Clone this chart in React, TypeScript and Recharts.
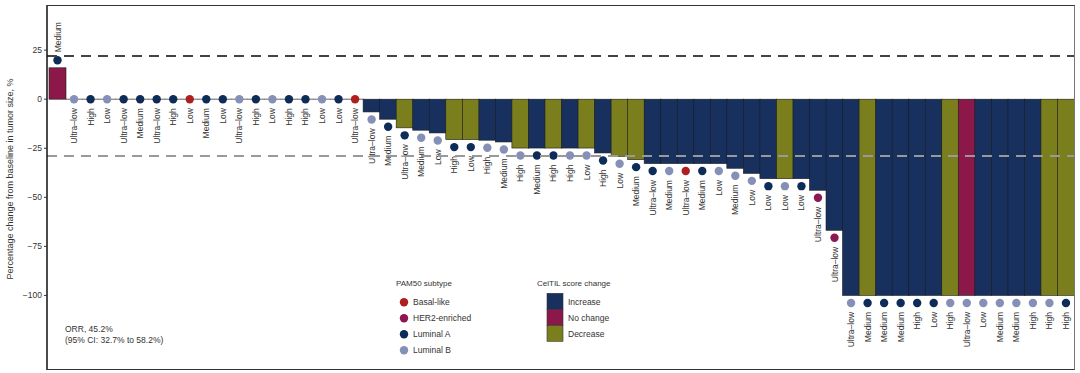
import React from 'react';
import { ComposedChart, Bar, XAxis, YAxis, ReferenceLine } from 'recharts';

// best % change in tumour size per patient, sorted
const tumorChange = [
  16,
  0, 0, 0, 0, 0, 0, 0, 0, 0, 0, 0, 0, 0, 0, 0, 0, 0, 0,
  -6.5, -10.2, -14.6, -15.8, -17.2, -20.6, -20.6, -20.9, -21.8,
  -24.9, -24.9, -24.9, -24.9, -24.9, -27.4, -29.1, -30.8,
  -32.8, -32.8, -32.8, -32.8, -32.8, -35.2, -37.8,
  -40.5, -40.5, -40.5, -46.4, -66.8,
  -100, -100, -100, -100, -100, -100, -100, -100, -100, -100, -100, -100, -100, -100,
];

// baseline CelTIL level (label under each bar)
const celtilLevel = [
  'Medium',
  'Ultra–low', 'High', 'Low', 'Ultra–low', 'Medium', 'Ultra–low', 'High', 'Low', 'Medium',
  'Low', 'Ultra–low', 'High', 'Low', 'High', 'High', 'Low', 'Low', 'Ultra–low',
  'Ultra–low', 'Medium', 'Ultra–low', 'Medium', 'Low', 'High', 'Low', 'High', 'Medium',
  'High', 'Medium', 'High', 'High', 'Low', 'High', 'Low', 'Medium',
  'Ultra–low', 'Medium', 'Ultra–low', 'Medium', 'Low', 'Medium', 'Low',
  'Low', 'Low', 'Low', 'Ultra–low', 'Ultra–low',
  'Ultra–low', 'Medium', 'Medium', 'Medium', 'High', 'Low', 'High', 'Ultra–low',
  'Low', 'Medium', 'Medium', 'High', 'High', 'High',
];

// PAM50: A = Luminal A, B = Luminal B, X = Basal-like, H = HER2-enriched
const pam50 = [
  'A',
  'B', 'A', 'B', 'A', 'A', 'A', 'A', 'X', 'A', 'A', 'B', 'A', 'B', 'A', 'A', 'B', 'A', 'X',
  'B', 'A', 'A', 'B', 'B', 'A', 'A', 'B', 'B',
  'B', 'A', 'A', 'B', 'B', 'A', 'B', 'A',
  'A', 'B', 'X', 'A', 'B', 'B', 'B',
  'A', 'B', 'A', 'H', 'H',
  'B', 'A', 'A', 'A', 'A', 'A', 'B', 'B', 'B', 'B', 'B', 'B', 'B', 'A',
];

// CelTIL score change: I = increase, N = no change, D = decrease
const celtilChange = [
  'N',
  'I', 'I', 'I', 'I', 'I', 'I', 'I', 'I', 'I', 'I', 'I', 'I', 'I', 'I', 'I', 'I', 'I', 'I',
  'I', 'I', 'D', 'I', 'I', 'D', 'D', 'I', 'I',
  'D', 'I', 'D', 'I', 'D', 'I', 'D', 'D',
  'I', 'I', 'I', 'I', 'I', 'I', 'I',
  'I', 'D', 'I', 'I', 'I',
  'I', 'D', 'I', 'I', 'I', 'I', 'D', 'N', 'I', 'I', 'I', 'I', 'D', 'D',
];

const yTicks = [25, 0, -25, -50, -75, -100];
const progressionCut = 22;
const responseCut = -29;

const SUBTYPES = [
  { code: 'X', name: 'Basal-like', color: '#b01f1f' },
  { code: 'H', name: 'HER2-enriched', color: '#8c1753' },
  { code: 'A', name: 'Luminal A', color: '#0e2c58' },
  { code: 'B', name: 'Luminal B', color: '#8690b6' },
];

const CHANGES = [
  { code: 'I', name: 'Increase', color: '#17305e' },
  { code: 'N', name: 'No change', color: '#8b1848' },
  { code: 'D', name: 'Decrease', color: '#7b7e1d' },
];

const FONT = '"Liberation Sans", Arial, Helvetica, sans-serif';

const subtypeColor = (c: string) => SUBTYPES.find(s => s.code === c)!.color;
const changeColor = (c: string) => CHANGES.find(s => s.code === c)!.color;

const data = tumorChange.map((change, i) => ({
  id: `pt${i + 1}`,
  change,
  level: celtilLevel[i],
  subtype: pam50[i],
  celtil: celtilChange[i],
}));

function WaterfallBar(props: any) {
  const { x, y, width, height, payload } = props;
  const h = Math.abs(height || 0);
  const top = height < 0 ? y + height : y;
  const v = payload.change;
  const cx = x + width / 2;
  const end = v < 0 ? top + h : top;
  const cy = v < 0 ? end + 7.5 : v > 0 ? end - 7.5 : end;
  const ty = v > 0 ? cy - 8 : cy + 9;
  return (
    <g>
      {h > 0 ? (
        <rect x={x} y={top} width={width} height={h} fill={changeColor(payload.celtil)} stroke="#1c1c1c" strokeWidth={0.6} />
      ) : (
        <line x1={x} x2={x + width} y1={end} y2={end} stroke="#666" strokeWidth={1} />
      )}
      <circle cx={cx} cy={cy} r={4.2} fill={subtypeColor(payload.subtype)} />
      <text
        transform={`translate(${cx},${ty}) rotate(-90)`}
        textAnchor={v > 0 ? 'start' : 'end'}
        dominantBaseline="central"
        fontSize={8.5}
        fontFamily={FONT}
        fill="#333"
      >
        {payload.level}
      </text>
    </g>
  );
}

export default function App() {
  return (
    <div style={{ position: 'absolute', left: 0, top: 0, width: 1080, height: 373, background: '#fff', fontFamily: FONT }}>
      <ComposedChart width={1080} height={373} data={data} margin={{ top: 5, right: 5, bottom: 3, left: 0 }} barCategoryGap={0}>
        <XAxis dataKey="id" hide padding={{ left: 2, right: 1 }} />
        <YAxis
          width={47}
          domain={[-138, 48]}
          allowDataOverflow
          ticks={yTicks}
          interval={0}
          tickFormatter={(v: number) => (v < 0 ? `−${-v}` : `${v}`)}
          tick={{ fontSize: 8.5, fill: '#333', fontFamily: FONT }}
          tickSize={3}
          tickLine={{ stroke: '#333' }}
          axisLine={{ stroke: '#111', strokeWidth: 1.5 }}
        />
        <Bar dataKey="change" shape={WaterfallBar} isAnimationActive={false} />
        <ReferenceLine y={progressionCut} stroke="#444" strokeWidth={2} strokeDasharray="10 7" />
        <ReferenceLine y={responseCut} stroke="#999" strokeWidth={2} strokeDasharray="10 7" />
      </ComposedChart>

      <div style={{ position: 'absolute', left: 47, top: 5, width: 1028, height: 365, boxSizing: 'border-box', borderTop: '1.5px solid #333', borderRight: '1px solid #777', borderBottom: '1.5px solid #333', pointerEvents: 'none' }} />

      <svg width={1080} height={373} style={{ position: 'absolute', left: 0, top: 0, pointerEvents: 'none' }} fontFamily={FONT}>
        <text transform="translate(10,179) rotate(-90)" textAnchor="middle" dominantBaseline="central" fontSize={9} fill="#333">
          Percentage change from baseline in tumor size, %
        </text>

        <text x={65} y={329} dominantBaseline="central" fontSize={8.5} fill="#333">ORR, 45.2%</text>
        <text x={65} y={339.5} dominantBaseline="central" fontSize={8.5} fill="#333">(95% CI: 32.7% to 58.2%)</text>

        <text x={396} y={283} dominantBaseline="central" fontSize={8} fill="#333">PAM50 subtype</text>
        {SUBTYPES.map((s, k) => (
          <g key={s.code}>
            <circle cx={404} cy={302.3 + 16 * k} r={4.2} fill={s.color} />
            <text x={413} y={302.3 + 16 * k} dominantBaseline="central" fontSize={8.5} fill="#333">{s.name}</text>
          </g>
        ))}

        <text x={537} y={283} dominantBaseline="central" fontSize={8} fill="#333">CelTIL score change</text>
        {CHANGES.map((c, k) => (
          <g key={c.code}>
            <rect x={547} y={293.3 + 16 * k} width={16} height={16} fill={c.color} stroke="#333" strokeWidth={0.6} />
            <text x={568} y={301.5 + 16 * k} dominantBaseline="central" fontSize={8.5} fill="#333">{c.name}</text>
          </g>
        ))}
      </svg>
    </div>
  );
}
